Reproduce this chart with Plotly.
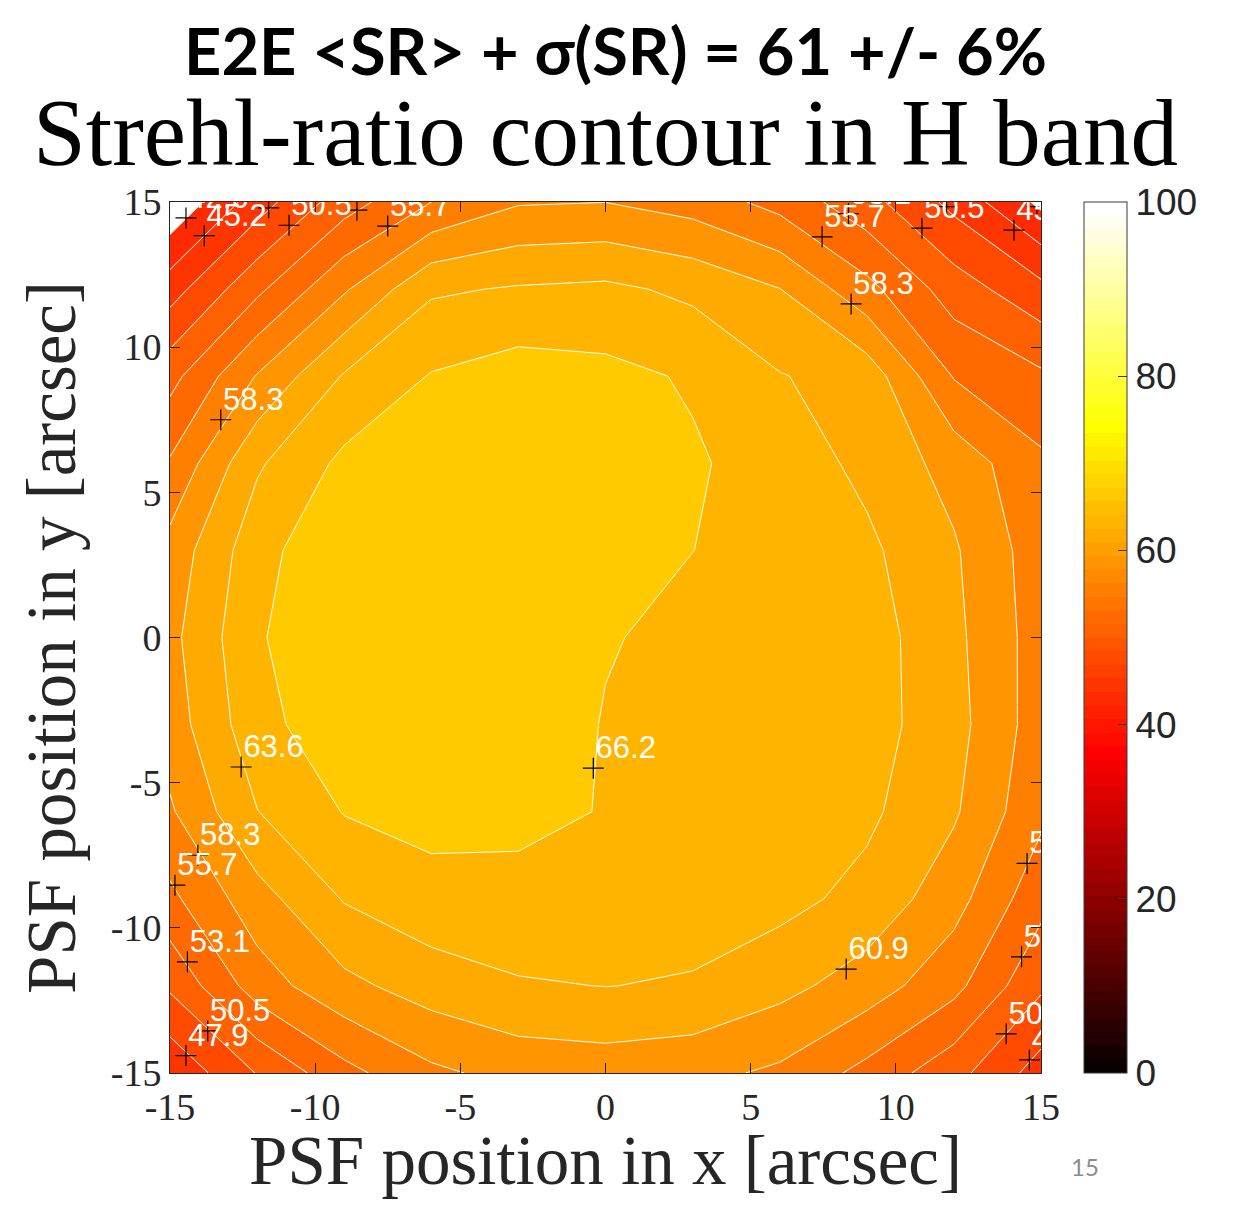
import numpy as np
import plotly.graph_objects as go

# ---------------- data ----------------
x_pos = [-15, -12, -9, -6, -3, 0, 3, 6, 9, 12, 15]          # PSF position in x [arcsec]
y_pos = [15, 12, 9, 6, 3, 0, -3, -6, -9, -12, -15]          # PSF position in y [arcsec]

sr_y15  = [40.2, 46.6, 51.9, 55.7, 58.1, 58.3, 57.2, 54.8, 51.4, 47.1, 42.0]
sr_y12  = [46.7, 52.5, 58.0, 63.2, 63.8, 64.1, 63.0, 61.0, 56.5, 51.8, 48.6]
sr_y9   = [52.2, 58.5, 63.8, 66.34, 67.4, 66.9, 65.9, 63.7, 62.5, 55.55, 53.55]
sr_y6   = [56.0, 63.2, 66.8, 68.0, 67.8, 67.4, 66.5, 65.05, 62.9, 59.96, 56.2]
sr_y3   = [59.3, 65.2, 68.5, 68.6, 68.0, 67.3, 66.2, 65.3, 64.1, 61.26, 56.9]
sr_y0   = [60.2, 65.85, 68.8, 68.6, 67.8, 66.39, 65.45, 65.1, 64.8, 61.6, 57.1]
sr_ym3  = [59.6, 65.27, 68.0, 68.4, 68.25, 66.0, 65.4, 65.0, 64.7, 61.9, 57.0]
sr_ym6  = [58.0, 63.5, 66.3, 67.0, 67.0, 66.03, 65.5, 64.9, 64.1, 61.29, 56.3]
sr_ym9  = [55.1, 59.9, 63.75, 65.3, 65.2, 65.0, 64.6, 64.4, 62.75, 59.35, 53.94]
sr_ym12 = [50.9, 57.0, 60.24, 62.18, 63.35, 63.6, 63.35, 61.75, 59.68, 56.5, 50.9]
sr_ym15 = [45.7, 50.6, 54.9, 57.8, 59.2, 59.57, 59.07, 57.85, 54.9, 51.4, 46.7]

sr_grid = [sr_y15, sr_y12, sr_y9, sr_y6, sr_y3, sr_y0, sr_ym3, sr_ym6, sr_ym9, sr_ym12, sr_ym15]

# contour levels: 10 levels between data min and max
sr_min, sr_max, n_levels = 40.0, 68.8, 10

# contour labels (MATLAB clabel positions)
label_x = [-14.45, -13.82, -11.6, -10.9, -8.56, -7.5, -13.25, -12.55, -0.42, -14.04, -14.83,
           -14.4, -13.7, -14.45, 8.29, 8.46, 7.46, 8.37, 10.9, 11.75, 14.07, 14.86,
           14.52, 14.33, 13.8, 14.6]
label_y = [14.45, 13.84, 14.8, 14.2, 14.72, 14.17, 7.5, -4.46, -4.5, -7.5, -8.53,
           -11.17, -13.55, -14.4, -11.42, 11.49, 13.8, 14.6, 14.1, 14.84, 14.03, 14.84,
           -7.78, -11.0, -13.65, -14.55]
label_text = ["42.6", "45.2", "47.9", "50.5", "53.1", "55.7", "58.3", "63.6", "66.2", "58.3", "55.7",
              "53.1", "50.5", "47.9", "60.9", "58.3", "55.7", "53.1", "50.5", "47.9", "45.2", "42.6",
              "55.7", "53.1", "50.5", "47.9"]

tick_vals = [-15, -10, -5, 0, 5, 10, 15]
tick_text = ["-15", "-10", "-5", "0", "5", "10", "15"]
cbar_ticks = [0, 20, 40, 60, 80, 100]

title_top = "E2E &lt;SR&gt; + σ(SR) = 61 +/- 6%"
title_main = "Strehl-ratio contour in H band"
x_label = "PSF position in x [arcsec]"
y_label = "PSF position in y [arcsec]"
page_number = "15"

# ---------------- colours: MATLAB hot(64), caxis [0 100] ----------------
def hot_map(m=64):
    n = int(3 / 8 * m)
    cols = []
    for i in range(1, m + 1):
        r = min(i / n, 1.0)
        g = min(max((i - n) / n, 0.0), 1.0)
        b = min(max((i - 2 * n) / (m - 2 * n), 0.0), 1.0)
        cols.append("rgb(%d,%d,%d)" % (round(r * 255), round(g * 255), round(b * 255)))
    return cols

HOT = hot_map(64)

def hot_color(v):
    idx = int(np.floor(v / 100 * 64))
    return HOT[max(0, min(63, idx))]

step = (sr_max - sr_min) / (n_levels + 1)
levels = [sr_min + step * (k + 1) for k in range(n_levels)]

# background below the lowest level stays unfilled (white);
# each band takes the colour of its lower level (MATLAB contourf)
band_cs = [[0.0, "white"]]
for k, lv in enumerate(levels):
    band_cs.append([(k + 1) / n_levels, hot_color(lv)])

cbar_cs = []
for k, c in enumerate(HOT):
    cbar_cs.append([k / 64, c])
    cbar_cs.append([(k + 1) / 64, c])

# ---------------- page geometry (page has an 8 px body margin) ----------------
FIG_W, FIG_H = 1217, 1191
OFF = 8
PLOT_L, PLOT_T, PLOT_S = 170 - OFF, 202 - OFF, 871


def px_x(px):  # page pixel -> paper x
    return (px - OFF - PLOT_L) / PLOT_S


def px_y(py):  # page pixel -> paper y
    return (PLOT_T + PLOT_S - (py - OFF)) / PLOT_S


fig = go.Figure()

fig.add_trace(go.Contour(
    x=x_pos, y=y_pos, z=sr_grid,
    autocontour=False,
    contours=dict(start=levels[0], end=levels[-1], size=step, coloring="fill", showlabels=False),
    colorscale=band_cs, showscale=False,
    line=dict(color="white", width=1, smoothing=0),
    hoverinfo="skip",
))

# "+" markers of the contour labels
fig.add_trace(go.Scatter(
    x=label_x, y=label_y, mode="markers",
    marker=dict(symbol="cross-thin", size=15, color="black", line=dict(color="black", width=1.2)),
    cliponaxis=True, showlegend=False, hoverinfo="skip",
))
# label texts
fig.add_trace(go.Scatter(
    x=label_x, y=label_y, text=label_text,
    mode="markers+text", textposition="top right",
    marker=dict(size=2, color="rgba(0,0,0,0)"),
    textfont=dict(family="Liberation Sans, Arial, sans-serif", size=31, color="white"),
    cliponaxis=True, showlegend=False, hoverinfo="skip",
))

# colorbar (hot colormap, 0..100)
fig.add_trace(go.Scatter(
    x=[0], y=[0], mode="markers", showlegend=False, hoverinfo="skip",
    marker=dict(size=1, opacity=0, color=[50], cmin=0, cmax=100, colorscale=cbar_cs,
                showscale=True,
                colorbar=dict(x=px_x(1084), xanchor="left", y=0.5, yanchor="middle",
                              len=1, lenmode="fraction", thickness=43, xpad=0, ypad=0,
                              outlinecolor="#3a3a3a", outlinewidth=1,
                              tickvals=cbar_ticks, ticks="inside", ticklen=9, tickcolor="#3a3a3a",
                              tickprefix="\u2009",
                              tickfont=dict(family="Liberation Sans, Arial, sans-serif", size=37,
                                            color="#262626"))),
))

axis_common = dict(
    range=[-15, 15], tickvals=tick_vals, ticktext=tick_text,
    ticks="inside", ticklen=10, tickwidth=1, tickcolor="#262626",
    showline=True, linecolor="#262626", linewidth=1, mirror="ticks",
    showgrid=False, zeroline=False,
    tickfont=dict(family="Liberation Serif, Times New Roman, serif", size=38, color="#262626"),
)

fig.update_layout(
    width=FIG_W, height=FIG_H,
    margin=dict(l=PLOT_L, r=FIG_W - PLOT_L - PLOT_S, t=PLOT_T, b=FIG_H - PLOT_T - PLOT_S,
                autoexpand=False),
    paper_bgcolor="white", plot_bgcolor="white",
    xaxis=dict(**axis_common,
               title=dict(text=x_label, standoff=22,
                          font=dict(family="Liberation Serif, Times New Roman, serif", size=69,
                                    color="#262626"))),
    yaxis=dict(**axis_common,
               title=dict(text=y_label, standoff=12,
                          font=dict(family="Liberation Serif, Times New Roman, serif", size=69,
                                    color="#262626"))),
    annotations=[
        dict(text="<b>" + title_top + "</b>", xref="paper", yref="paper",
             x=px_x(615), y=px_y(9), xanchor="center", yanchor="top",
             showarrow=False, font=dict(family="Lato, sans-serif", size=65, color="black")),
        dict(text=title_main, xref="paper", yref="paper",
             x=px_x(605), y=px_y(133), xanchor="center", yanchor="middle",
             showarrow=False, font=dict(family="Liberation Serif, Times New Roman, serif", size=95,
                                        color="black")),
        dict(text=page_number, xref="paper", yref="paper",
             x=px_x(1085), y=px_y(1166), xanchor="center", yanchor="middle",
             showarrow=False, font=dict(family="Lato, sans-serif", size=24, color="#8c8c8c")),
    ],
)

fig.write_html("out.html")
